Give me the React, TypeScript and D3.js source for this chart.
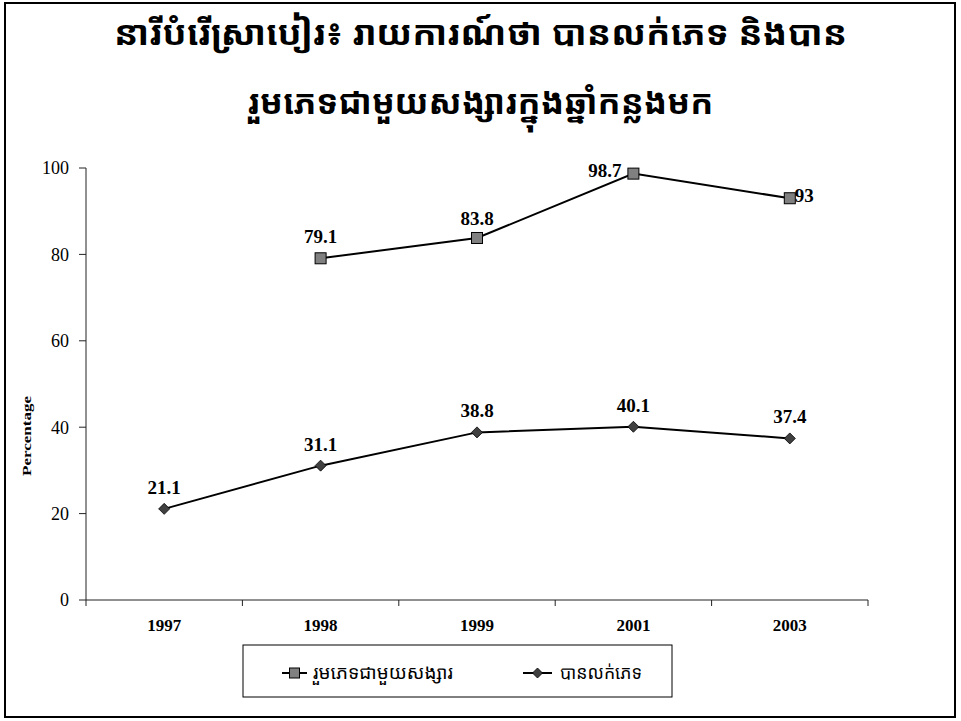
import React from "react";
import * as d3 from "d3";

const years = ["1997", "1998", "1999", "2001", "2003"];
const withBoyfriend: (number | null)[] = [null, 79.1, 83.8, 98.7, 93];
const soldSex: number[] = [21.1, 31.1, 38.8, 40.1, 37.4];
const yTicks = [0, 20, 40, 60, 80, 100];
const titleLines = [
  "នារីបំរើស្រាបៀរ៖ រាយការណ៍ថា បានលក់ភេទ និងបាន",
  "រួមភេទជាមួយសង្សារក្នុងឆ្នាំកន្លងមក",
];
const legendLabels = ["រួមភេទជាមួយសង្សារ", "បានលក់ភេទ"];
const yLabel = "Percentage";

const W = 961;
const H = 721;
const left = 86;
const right = 868;
const top = 168;
const bottom = 600;

export default function App() {
  const x = d3.scaleBand<string>().domain(years).range([left, right]);
  const y = d3.scaleLinear().domain([0, 100]).range([bottom, top]);
  const cx = (yr: string) => (x(yr) as number) + x.bandwidth() / 2;

  const line = d3
    .line<[string, number | null]>()
    .defined((d) => d[1] != null)
    .x((d) => cx(d[0]))
    .y((d) => y(d[1] as number));

  const s1 = years.map((yr, i) => [yr, withBoyfriend[i]] as [string, number | null]);
  const s2 = years.map((yr, i) => [yr, soldSex[i]] as [string, number | null]);

  const serif = "'Times New Roman', 'Liberation Serif', serif";
  const khmer = "'Khmer OS Muol Light', 'Khmer OS', 'Noto Sans Khmer', 'DejaVu Sans', sans-serif";

  // label placement per point for the square series: [dx, dy, anchor]
  const label1Place: [number, number, string][] = [
    [0, -15, "middle"],
    [0, -15, "middle"],
    [0, -13, "middle"],
    [-12, 3, "end"],
    [5, 4, "start"],
  ];

  const diamond = (px: number, py: number, r: number) =>
    `M${px},${py - r}L${px + r},${py}L${px},${py + r}L${px - r},${py}Z`;

  return (
    <div style={{ position: "fixed", left: 0, top: 0 }}>
      <svg width={W} height={H} style={{ display: "block", background: "#fff" }}>
        <rect x={5} y={3} width={950} height={714} fill="#fff" stroke="#000" strokeWidth={2} />
        {titleLines.map((t, i) => (
          <text
            key={i}
            x={W / 2}
            y={i === 0 ? 45 : 114}
            textAnchor="middle"
            fontFamily={khmer}
            fontWeight="bold"
            fontSize={34}
            textLength={i === 0 ? 733 : 466}
            lengthAdjust="spacingAndGlyphs"
            fill="#000"
          >
            {t}
          </text>
        ))}

        {/* y axis */}
        <line x1={left} x2={left} y1={top} y2={bottom} stroke="#222" strokeWidth={1} />
        {yTicks.map((t) => (
          <g key={t}>
            <line x1={left - 7} x2={left} y1={y(t)} y2={y(t)} stroke="#222" />
            <text
              x={left - 17}
              y={y(t)}
              dy="0.35em"
              textAnchor="end"
              fontFamily={serif}
              fontSize={18}
              fill="#000"
            >
              {t}
            </text>
          </g>
        ))}
        <text
          transform={`translate(31,436) rotate(-90)`}
          textAnchor="middle"
          fontFamily={serif}
          fontWeight="bold"
          fontSize={13}
          textLength={80}
          lengthAdjust="spacingAndGlyphs"
          fill="#000"
        >
          {yLabel}
        </text>

        {/* x axis */}
        <line x1={left} x2={right} y1={bottom} y2={bottom} stroke="#222" strokeWidth={1} />
        {[...years.map((yr) => x(yr) as number), right].map((p, i) => (
          <line key={i} x1={p} x2={p} y1={bottom} y2={bottom + 6} stroke="#222" />
        ))}
        {years.map((yr) => (
          <text
            key={yr}
            x={cx(yr)}
            y={631}
            textAnchor="middle"
            fontFamily={serif}
            fontWeight="bold"
            fontSize={17}
            fill="#000"
          >
            {yr}
          </text>
        ))}

        {/* series lines */}
        <path d={line(s1) || ""} fill="none" stroke="#000" strokeWidth={2} />
        <path d={line(s2) || ""} fill="none" stroke="#000" strokeWidth={2} />

        {s1.map(([yr, v], i) =>
          v == null ? null : (
            <g key={yr}>
              <rect
                x={cx(yr) - 5.5}
                y={y(v) - 5.5}
                width={11}
                height={11}
                fill="#808080"
                stroke="#000"
                strokeWidth={1}
              />
              <text
                x={cx(yr) + label1Place[i][0]}
                y={y(v) + label1Place[i][1]}
                textAnchor={label1Place[i][2] as any}
                fontFamily={serif}
                fontWeight="bold"
                fontSize={19}
                fill="#000"
              >
                {v}
              </text>
            </g>
          )
        )}
        {s2.map(([yr, v]) => (
          <g key={yr}>
            <path d={diamond(cx(yr), y(v as number), 5.5)} fill="#404040" stroke="#000" strokeWidth={0.8} />
            <text
              x={cx(yr)}
              y={y(v as number) - 15}
              textAnchor="middle"
              fontFamily={serif}
              fontWeight="bold"
              fontSize={19}
              fill="#000"
            >
              {v}
            </text>
          </g>
        ))}

        {/* legend */}
        <rect x={243} y={645} width={429} height={52} fill="#fff" stroke="#000" strokeWidth={1} />
        <line x1={282} x2={307} y1={673} y2={673} stroke="#000" strokeWidth={2} />
        <rect x={289.5} y={668} width={10} height={10} fill="#808080" stroke="#000" />
        <text x={313} y={673} dy="0.35em" fontFamily={khmer} fontSize={18} textLength={140} lengthAdjust="spacingAndGlyphs" fill="#000">
          {legendLabels[0]}
        </text>
        <line x1={523} x2={552} y1={673} y2={673} stroke="#000" strokeWidth={2} />
        <path d={diamond(537.5, 673, 5)} fill="#404040" stroke="#000" strokeWidth={0.8} />
        <text x={560} y={673} dy="0.35em" fontFamily={khmer} fontSize={18} textLength={82} lengthAdjust="spacingAndGlyphs" fill="#000">
          {legendLabels[1]}
        </text>
      </svg>
    </div>
  );
}
